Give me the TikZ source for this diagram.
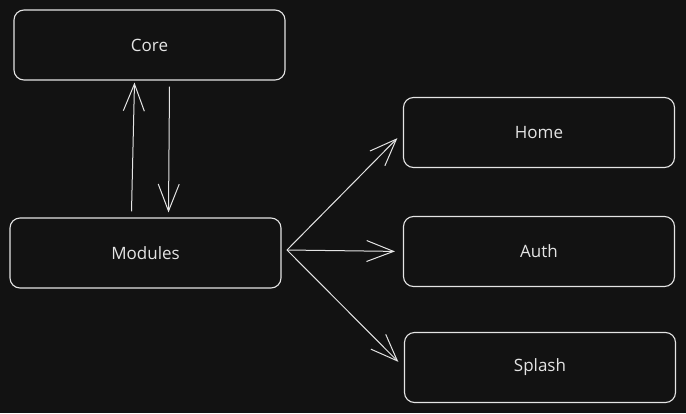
\documentclass[tikz,border=0pt]{standalone}
\usepackage{fontspec}
\setmainfont{Open Sans}
\usetikzlibrary{arrows.meta}
\definecolor{bg}{HTML}{121212}
\definecolor{ink}{HTML}{E4E4E4}

\begin{document}
\begin{tikzpicture}[x=1pt,y=-1pt,
	box/.style={draw=ink,line width=1.1pt,rounded corners=10pt,minimum width=271pt,minimum height=70pt,inner sep=0pt,text=ink,font=\fontsize{17}{20}\selectfont},
	link/.style={draw=ink,line width=1pt,-{Straight Barb[length=27pt,width=21pt,line width=1pt]}}]
			\fill[bg] (0,0) rectangle (686,413);
			\coordinate (core) at (149.5,45);
			\coordinate (modules) at (145.5,253);
			\coordinate (home) at (539,132.5);
			\coordinate (auth) at (539,251.5);
			\coordinate (splash) at (540,367.5);
			\node[box] (Core) at (core) {Core};
			\node[box] (Modules) at (modules) {Modules};
			\node[box] (Home) at (home) {Home};
			\node[box] (Auth) at (auth) {Auth};
			\node[box] (Splash) at (splash) {Splash};
			\coordinate (fork) at (287,250);
			\draw[link] ([xshift=-14pt,yshift=6pt]Modules.north) -- ([xshift=-15pt,yshift=-2pt]Core.south);
			\draw[link] ([xshift=20pt,yshift=-6pt]Core.south) -- ([xshift=23pt,yshift=5pt]Modules.north);
			\foreach \Cible in {Home,Auth,Splash}
				\draw[link,shorten >=8pt] (fork) -- (\Cible.west);
		\end{tikzpicture}
\end{document}
